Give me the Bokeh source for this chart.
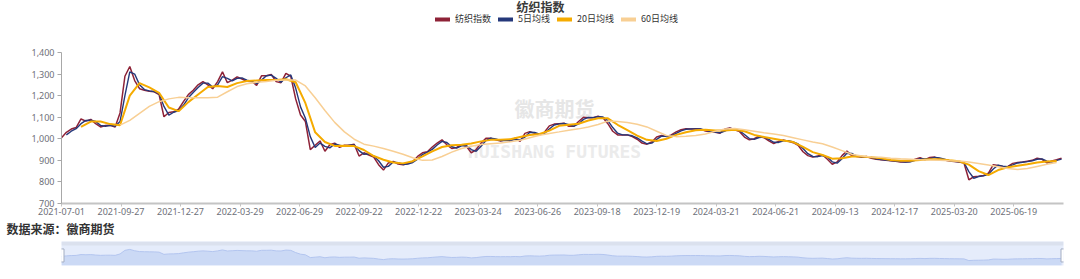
from bokeh.plotting import figure
from bokeh.models import (Range1d, FixedTicker, NumeralTickFormatter, Label, Legend,
                          LegendItem, BoxAnnotation)
from bokeh.layouts import column
from bokeh.embed import file_html
from bokeh.resources import INLINE

# ---------------- data ----------------
title_text = "纺织指数"
series_names = ["纺织指数", "5日均线", "20日均线", "60日均线"]
source_note = "数据来源：徽商期货"
watermark_cn = "徽商期货"
watermark_en = "HUISHANG FUTURES"

x_tick_labels = ["2021-07-01", "2021-09-27", "2021-12-27", "2022-03-29", "2022-06-29",
                 "2022-09-22", "2022-12-22", "2023-03-24", "2023-06-26", "2023-09-18",
                 "2023-12-19", "2024-03-21", "2024-06-21", "2024-09-13", "2024-12-17",
                 "2025-03-20", "2025-06-19"]
label_every = 61          # trading days between two axis labels
total_days = 1027         # trading days shown on the axis
index_step = 5            # index / MA5 values read every 5 trading days
ma_step = 10              # MA20 / MA60 values read every 10 trading days
ma5_first = 1             # first sample (in index_step units) of MA5
ma20_first = 2            # first sample (in ma_step units) of MA20
ma60_first = 6            # first sample (in ma_step units) of MA60

index_vals = [
    1005, 1030, 1045, 1052, 1092, 1082, 1090, 1070, 1055, 1062,
    1063, 1055, 1120, 1290, 1335, 1270, 1232, 1225, 1220, 1218,
    1205, 1102, 1122, 1125, 1137, 1172, 1205, 1225, 1250, 1265,
    1250, 1232, 1265, 1310, 1260, 1272, 1287, 1277, 1267, 1266,
    1248, 1292, 1292, 1298, 1265, 1260, 1303, 1290, 1185, 1110,
    1080, 950, 970, 990, 942, 972, 980, 960, 970, 970,
    975, 920, 935, 925, 915, 880, 855, 888, 895, 883,
    880, 885, 895, 918, 935, 940, 962, 980, 995, 972,
    955, 960, 973, 965, 935, 950, 980, 1002, 1003, 995,
    990, 995, 990, 1003, 988, 1025, 1033, 1025, 1018, 1030,
    1060, 1068, 1070, 1072, 1058, 1058, 1080, 1100, 1098, 1098,
    1105, 1097, 1070, 1035, 1018, 1018, 1018, 1010, 998, 980,
    975, 985, 1008, 1015, 1010, 1018, 1032, 1042, 1046, 1045,
    1047, 1045, 1036, 1033, 1030, 1026, 1045, 1050, 1042, 1033,
    1008, 995, 1000, 1012, 1005, 990, 978, 988, 994, 988,
    982, 970, 940, 922, 915, 920, 925, 905, 882, 893,
    922, 943, 922, 918, 914, 918, 910, 905, 903, 900,
    898, 896, 892, 892, 895, 905, 912, 903, 913, 915,
    908, 902, 897, 895, 892, 888, 810, 824, 826, 830,
    840, 880, 876, 870, 872, 886, 890, 892, 896, 900,
    910, 905, 888, 897, 903, 910,
]

ma5_vals = [
    1018, 1035, 1047, 1070, 1085, 1086, 1080, 1062, 1058, 1062,
    1058, 1080, 1200, 1310, 1300, 1250, 1228, 1222, 1219, 1210,
    1150, 1110, 1123, 1131, 1155, 1190, 1215, 1238, 1258, 1258,
    1240, 1250, 1288, 1280, 1268, 1280, 1282, 1272, 1266, 1256,
    1272, 1292, 1295, 1280, 1262, 1283, 1296, 1235, 1148, 1095,
    1010, 960, 980, 965, 958, 976, 970, 965, 970, 972,
    945, 928, 930, 920, 898, 868, 872, 892, 889, 881,
    883, 890, 906, 927, 938, 951, 971, 988, 983, 963,
    957, 967, 969, 950, 942, 965, 992, 1003, 999, 992,
    993, 992, 997, 995, 1008, 1030, 1029, 1021, 1024, 1045,
    1064, 1069, 1071, 1065, 1058, 1069, 1090, 1099, 1098, 1102,
    1101, 1084, 1052, 1026, 1018, 1018, 1014, 1004, 989, 977,
    980, 997, 1012, 1012, 1014, 1025, 1037, 1044, 1046, 1046,
    1046, 1040, 1034, 1031, 1028, 1036, 1048, 1046, 1037, 1020,
    1001, 997, 1006, 1008, 997, 984, 983, 991, 991, 985,
    976, 955, 931, 918, 917, 922, 915, 893, 887, 908,
    933, 932, 920, 916, 916, 914, 907, 904, 901, 899,
    897, 894, 892, 893, 900, 908, 907, 908, 914, 911,
    905, 899, 896, 893, 890, 848, 817, 825, 828, 835,
    860, 878, 873, 871, 879, 888, 891, 894, 898, 905,
    907, 896, 892, 900, 906,
]

ma20_vals = [
    1055, 1080, 1080, 1068, 1063, 1200, 1258, 1238, 1213, 1145,
    1128, 1170, 1205, 1240, 1245, 1240, 1258, 1268, 1270, 1272,
    1273, 1276, 1262, 1165, 1030, 985, 967, 968, 966, 948,
    920, 903, 890, 886, 896, 918, 942, 962, 970, 972,
    978, 988, 995, 995, 998, 1008, 1018, 1022, 1038, 1060,
    1065, 1070, 1085, 1095, 1095, 1065, 1040, 1015, 995, 990,
    1000, 1018, 1030, 1040, 1042, 1038, 1038, 1042, 1035, 1018,
    1008, 1000, 992, 985, 962, 938, 925, 908, 910, 918,
    918, 914, 910, 902, 898, 898, 902, 905, 905, 900,
    896, 880, 850, 832, 855, 868, 875, 882, 890, 895,
    897,
]

ma60_vals = [
    1063, 1085, 1118, 1150, 1172, 1185, 1192, 1190, 1190, 1190,
    1193, 1218, 1242, 1255, 1262, 1266, 1271, 1273, 1272, 1245,
    1190, 1131, 1076, 1032, 998, 975, 966, 955, 942, 928,
    912, 900, 902, 918, 938, 955, 965, 973, 977, 980,
    986, 993, 1005, 1016, 1025, 1032, 1040, 1046, 1055, 1066,
    1082, 1080, 1075, 1067, 1055, 1035, 1015, 1010, 1012, 1015,
    1022, 1035, 1045, 1048, 1042, 1035, 1028, 1022, 1015, 1005,
    995, 985, 977, 962, 945, 928, 920, 916, 914, 910,
    907, 905, 903, 902, 900, 898, 897, 892, 885, 878,
    870, 862, 858, 862, 872, 882, 890,
]

series_colors = ["#8e2237", "#25387a", "#f5ab00", "#f8cf94"]

# -------------- derived x positions (trading-day index) --------------
index_days = [index_step * i for i in range(len(index_vals))]
ma5_days = [index_step * (ma5_first + i) for i in range(len(ma5_vals))]
ma20_days = [ma_step * (ma20_first + i) for i in range(len(ma20_vals))]
ma60_days = [ma_step * (ma60_first + i) for i in range(len(ma60_vals))]
tick_pos = [label_every * i for i in range(len(x_tick_labels))]
series_x = [index_days, ma5_days, ma20_days, ma60_days]
series_y = [index_vals, ma5_vals, ma20_vals, ma60_vals]

cjk = "Noto Sans CJK SC"
lab_font = "Noto Sans"
lab_color = "#6e7079"

# ---------------- header: title + legend ----------------
h = figure(width=1080, height=36, output_backend="svg", toolbar_location=None,
           title=None, x_range=Range1d(-5000, -4000), y_range=Range1d(-5000, -4000),
           x_axis_location=None, y_axis_location=None,
           min_border_left=61, min_border_right=17, min_border_top=0, min_border_bottom=0,
           background_fill_color="white", border_fill_color="white")
h.outline_line_color = None
h.grid.visible = False
h.add_layout(Label(x=479, y=30, x_units="screen", y_units="screen", text=title_text,
                   text_align="center", text_baseline="middle", text_color="#3a3a3a",
                   text_font=cjk, text_font_style="bold", text_font_size="12px"))
# legend swatches: the series themselves drawn (out of view) with thick round strokes
leg_rs = [h.line(xs, ys, line_color=c, line_width=4, line_cap="round")
          for xs, ys, c in zip(series_x, series_y, series_colors)]
legend = Legend(items=[LegendItem(label=n, renderers=[r]) for n, r in zip(series_names, leg_rs)],
                orientation="horizontal", location=(374, 11), padding=0, margin=0,
                spacing=7, glyph_width=15, glyph_height=10, label_standoff=5,
                label_height=10, label_text_font=cjk,
                label_text_font_size="9px", label_text_color="#333333",
                border_line_color=None, background_fill_alpha=0)
h.add_layout(legend)

# ---------------- main chart (source note as bottom title) ----------------
p = figure(width=1080, height=200, output_backend="svg", toolbar_location=None,
           title=source_note, title_location="below",
           x_range=Range1d(0, total_days), y_range=Range1d(700, 1400),
           min_border_left=61, min_border_right=17, min_border_top=16, min_border_bottom=29,
           background_fill_color="white", border_fill_color="white")
p.outline_line_color = None
p.grid.visible = False
p.title.align = "left"
p.title.offset = -55
p.title.standoff = 0
p.title.text_font = cjk
p.title.text_font_style = "bold"
p.title.text_font_size = "12px"
p.title.text_color = "#333333"

p.xaxis.ticker = FixedTicker(ticks=tick_pos)
p.xaxis.major_label_overrides = {t: s for t, s in zip(tick_pos, x_tick_labels)}
p.xaxis.axis_line_color = "#c4c4c4"
p.xaxis.axis_line_width = 2
p.xaxis.major_tick_line_color = "#c4c4c4"
p.xaxis.major_tick_out = 3
p.xaxis.major_tick_in = 0
p.xaxis.minor_tick_line_color = None
p.xaxis.major_label_standoff = 1
p.xaxis.major_label_text_font = lab_font
p.xaxis.major_label_text_font_size = "9px"
p.xaxis.major_label_text_color = lab_color

p.yaxis.ticker = FixedTicker(ticks=[700, 800, 900, 1000, 1100, 1200, 1300, 1400])
p.yaxis.formatter = NumeralTickFormatter(format="0,0")
p.yaxis.axis_line_color = "#a8a8a8"
p.yaxis.axis_line_width = 1
p.yaxis.major_tick_line_color = "#a8a8a8"
p.yaxis.major_tick_out = 4
p.yaxis.major_tick_in = 0
p.yaxis.minor_tick_line_color = None
p.yaxis.major_label_standoff = 3
p.yaxis.major_label_text_font = lab_font
p.yaxis.major_label_text_font_size = "9px"
p.yaxis.major_label_text_color = lab_color

# watermark
p.add_layout(Label(x=493, y=95, x_units="screen", y_units="screen", text=watermark_cn,
                   text_align="center", text_baseline="middle", text_color="#e6e6e6",
                   text_font=cjk, text_font_style="bold",
                   text_font_size="20px", level="underlay"))
p.add_layout(Label(x=493, y=52, x_units="screen", y_units="screen", text=watermark_en,
                   text_align="center", text_baseline="middle", text_color="#ebebeb",
                   text_font="DejaVu Sans Mono", text_font_style="bold",
                   text_font_size="18px", level="underlay"))

widths = [1.5, 1.4, 2, 1.5]
for xs, ys, c, w in zip(series_x, series_y, series_colors, widths):
    p.line(xs, ys, line_color=c, line_width=w)

# ---------------- data-zoom slider ----------------
s_lo, s_hi = 578, 1706
s = figure(width=1080, height=43, output_backend="svg", toolbar_location=None,
           title=None, x_range=Range1d(0, total_days), y_range=Range1d(s_lo, s_hi),
           x_axis_location=None, y_axis_location=None,
           min_border_left=61, min_border_right=17, min_border_top=5, min_border_bottom=14,
           background_fill_color="#e5ecfb", border_fill_color="white")
s.outline_line_color = None
s.grid.visible = False
s.add_layout(BoxAnnotation(bottom=1523, fill_color="#dbe1ee", fill_alpha=1, line_alpha=0))
s.varea(x=index_days, y1=[s_lo] * len(index_vals), y2=index_vals, fill_color="#cbd9f5")
s.line(index_days, index_vals, line_color="#b3c5ef", line_width=1)
s.rect(x=[index_days[0], total_days], y=[(s_lo + s_hi) / 2 - 92] * 2, width=5, height=13,
       width_units="screen", height_units="screen", fill_color="white",
       line_color="#a3adc2", line_width=1)

layout = column(h, p, s, spacing=0)
open("out.html", "w").write(file_html(layout, INLINE))
